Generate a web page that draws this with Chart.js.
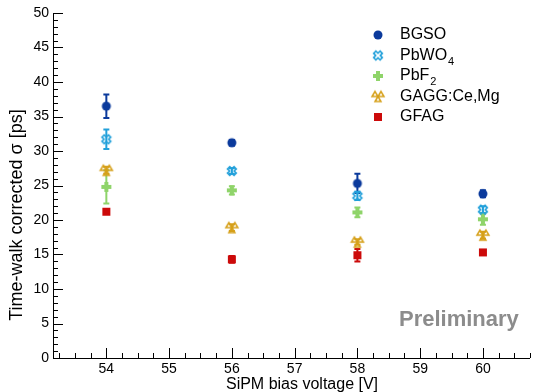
<!DOCTYPE html>
<html>
<head>
<meta charset="utf-8">
<script src="https://cdn.jsdelivr.net/npm/chart.js@4.4.1/dist/chart.umd.min.js"></script>
<style>
  html, body { margin: 0; padding: 0; background: #fff; }
</style>
</head>
<body>
<canvas id="chart" width="535" height="392"></canvas>
<script>
const voltages = [54, 56, 58, 60];

const bgso     = [36.5, 31.2, 25.3, 23.8];
const bgsoErr  = [1.7, 0.4, 1.4, 0.5];
const pbwo4    = [31.7, 27.1, 23.5, 21.5];
const pbwo4Err = [1.4, 0.4, 0.6, 0.5];
const pbf2     = [24.8, 24.3, 21.1, 20.1];
const pbf2Err  = [2.4, 0.6, 0.7, 0.8];
const gagg     = [27.2, 18.9, 16.8, 17.8];
const gaggErr  = [0.5, 0.5, 0.4, 0.5];
const gfag     = [21.2, 14.3, 14.9, 15.3];
const gfagErr  = [0.3, 0.5, 0.9, 0.3];

const xTicks = [54, 55, 56, 57, 58, 59, 60];
const yTicks = [0, 5, 10, 15, 20, 25, 30, 35, 40, 45, 50];

const FONT = '"Liberation Sans", Arial, sans-serif';

// marker sprites (ROOT-like shapes)
function sprite(draw) {
  const c = document.createElement('canvas');
  c.width = 16; c.height = 16;
  const g = c.getContext('2d');
  g.translate(8, 8);
  draw(g);
  return c;
}

const markerBgso = sprite(g => {
  g.fillStyle = '#0b3a9c';
  g.beginPath(); g.arc(0, 0, 4.5, 0, Math.PI * 2); g.fill();
});

const markerPbwo4 = sprite(g => {
  g.strokeStyle = '#22a0da';
  g.lineWidth = 1.6;
  g.rotate(Math.PI / 4);
  const a = 1.6, r = 4.6;
  g.beginPath();
  g.moveTo(-a, -r); g.lineTo(a, -r); g.lineTo(a, -a); g.lineTo(r, -a);
  g.lineTo(r, a); g.lineTo(a, a); g.lineTo(a, r); g.lineTo(-a, r);
  g.lineTo(-a, a); g.lineTo(-r, a); g.lineTo(-r, -a); g.lineTo(-a, -a);
  g.closePath(); g.stroke();
});

const markerPbf2 = sprite(g => {
  g.fillStyle = '#8fd46a';
  const a = 2, r = 5;
  g.beginPath();
  g.moveTo(-a, -r); g.lineTo(a, -r); g.lineTo(a, -a); g.lineTo(r, -a);
  g.lineTo(r, a); g.lineTo(a, a); g.lineTo(a, r); g.lineTo(-a, r);
  g.lineTo(-a, a); g.lineTo(-r, a); g.lineTo(-r, -a); g.lineTo(-a, -a);
  g.closePath(); g.fill();
});

const markerGagg = sprite(g => {
  g.strokeStyle = '#d6a01a';
  g.lineWidth = 1.5;
  const tri = (x1, y1, x2, y2, x3, y3) => {
    g.beginPath(); g.moveTo(x1, y1); g.lineTo(x2, y2); g.lineTo(x3, y3); g.closePath(); g.stroke();
  };
  tri(-3, -5, -6, 0, 0, 0);
  tri(3, -5, 0, 0, 6, 0);
  tri(0, 0, -3, 5, 3, 5);
});

const markerGfag = sprite(g => {
  g.fillStyle = '#cc0a0a';
  g.fillRect(-4, -4, 8, 8);
});

const series = [
  { label: 'BGSO',  sub: '',  values: bgso,  errors: bgsoErr,  color: '#0b3a9c', marker: markerBgso },
  { label: 'PbWO',  sub: '4', values: pbwo4, errors: pbwo4Err, color: '#22a0da', marker: markerPbwo4 },
  { label: 'PbF',   sub: '2', values: pbf2,  errors: pbf2Err,  color: '#8fd46a', marker: markerPbf2 },
  { label: 'GAGG:Ce,Mg', sub: '', values: gagg, errors: gaggErr, color: '#d6a01a', marker: markerGagg },
  { label: 'GFAG',  sub: '',  values: gfag,  errors: gfagErr,  color: '#cc0a0a', marker: markerGfag }
];

// error bars, inward ROOT-style ticks, legend, titles
const rootStyle = {
  id: 'rootStyle',
  beforeDatasetsDraw(chart) {
    const ctx = chart.ctx;
    const xs = chart.scales.x, ys = chart.scales.y;
    ctx.save();
    series.forEach(s => {
      ctx.strokeStyle = s.color;
      ctx.lineWidth = 2;
      s.values.forEach((v, i) => {
        const px = xs.getPixelForValue(voltages[i]);
        const top = ys.getPixelForValue(v + s.errors[i]);
        const bot = ys.getPixelForValue(v - s.errors[i]);
        ctx.beginPath();
        ctx.moveTo(px, top); ctx.lineTo(px, bot);
        ctx.moveTo(px - 3, top); ctx.lineTo(px + 3, top);
        ctx.moveTo(px - 3, bot); ctx.lineTo(px + 3, bot);
        ctx.stroke();
      });
    });
    ctx.restore();
  },
  afterDraw(chart) {
    const ctx = chart.ctx;
    const xs = chart.scales.x, ys = chart.scales.y;
    const area = chart.chartArea;
    ctx.save();
    ctx.strokeStyle = '#000';
    ctx.lineWidth = 1;
    ctx.beginPath();
    ctx.moveTo(area.left + 0.5, area.top);
    ctx.lineTo(area.left + 0.5, area.bottom + 0.5);
    ctx.lineTo(area.right, area.bottom + 0.5);
    for (let v = 0; v <= 50; v += 1) {
      const py = Math.round(ys.getPixelForValue(v)) + 0.5;
      const len = v % 5 === 0 ? 10 : 5;
      ctx.moveTo(area.left, py); ctx.lineTo(area.left + len, py);
    }
    for (let q = Math.ceil(xs.min * 4); q <= Math.floor(xs.max * 4); q++) {
      const px = Math.round(xs.getPixelForValue(q / 4)) + 0.5;
      const len = q % 4 === 0 ? 10 : 5;
      ctx.moveTo(px, area.bottom); ctx.lineTo(px, area.bottom - len);
    }
    ctx.stroke();

    // legend
    let ly = 35;
    series.forEach(s => {
      ctx.drawImage(s.marker, 378 - 8, ly - 8);
      ctx.fillStyle = '#000';
      ctx.font = '16px ' + FONT;
      ctx.textBaseline = 'middle';
      ctx.textAlign = 'left';
      ctx.fillText(s.label, 400, ly);
      if (s.sub) {
        const w = ctx.measureText(s.label).width;
        ctx.font = '11px ' + FONT;
        ctx.fillText(s.sub, 400 + w + 1, ly + 6);
      }
      ly += 20.5;
    });

    // preliminary
    ctx.font = 'bold 22px ' + FONT;
    ctx.fillStyle = '#8c8c8c';
    ctx.textAlign = 'left';
    ctx.textBaseline = 'alphabetic';
    ctx.fillText('Preliminary', 399, 326);

    // axis titles
    ctx.fillStyle = '#000';
    ctx.font = '16px ' + FONT;
    ctx.textAlign = 'center';
    ctx.textBaseline = 'middle';
    ctx.fillText('SiPM bias voltage [V]', 302, 385);
    ctx.translate(17, 215);
    ctx.rotate(-Math.PI / 2);
    ctx.font = '18px ' + FONT;
    ctx.fillText('Time-walk corrected \u03c3 [ps]', 0, 0);
    ctx.restore();
  }
};

new Chart(document.getElementById('chart'), {
  type: 'scatter',
  data: {
    datasets: series.map(s => ({
      label: s.label + s.sub,
      data: s.values.map((v, i) => ({ x: voltages[i], y: v })),
      pointStyle: s.marker,
      backgroundColor: s.color,
      borderColor: s.color
    }))
  },
  options: {
    responsive: false,
    animation: false,
    events: [],
    layout: { padding: { top: 13, right: 3, left: 0, bottom: 0 } },
    plugins: { legend: { display: false }, tooltip: { enabled: false } },
    scales: {
      x: {
        type: 'linear',
        min: 53.15,
        max: 60.75,
        afterFit: s => { s.height = 34; },
        afterBuildTicks: s => { s.ticks = xTicks.map(v => ({ value: v })); },
        grid: { display: false, drawTicks: false },
        border: { display: false },
        ticks: { color: '#000', font: { family: FONT, size: 14 }, padding: 3, maxRotation: 0 }
      },
      y: {
        min: 0,
        max: 50,
        afterFit: s => { s.width = 53; },
        afterBuildTicks: s => { s.ticks = yTicks.map(v => ({ value: v })); },
        grid: { display: false, drawTicks: false },
        border: { display: false },
        ticks: { color: '#000', font: { family: FONT, size: 14 }, padding: 4 }
      }
    }
  },
  plugins: [rootStyle]
});
</script>
</body>
</html>
